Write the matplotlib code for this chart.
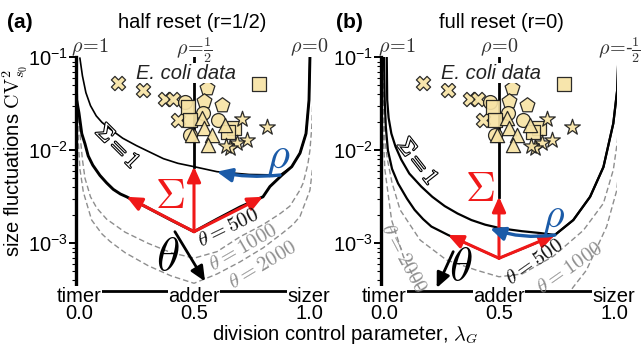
import numpy as np
import matplotlib
matplotlib.use('Agg')
import matplotlib.pyplot as plt
from matplotlib import patheffects as pe

plt.rcParams['font.family'] = ['Liberation Sans', 'DejaVu Sans']
plt.rcParams['mathtext.fontset'] = 'cm'
plt.rcParams['mathtext.rm'] = 'Liberation Sans'
plt.rcParams['mathtext.it'] = 'Liberation Sans:italic'
plt.rcParams['mathtext.bf'] = 'Liberation Sans:bold'

FS = 14.5

# ---------------- E. coli data (lambda_G, CV^2) ----------------
cross_lam = [0.170, 0.278, 0.374, 0.407, 0.432]
cross_cv2 = [0.053, 0.0445, 0.0353, 0.0353, 0.0212]
pent_lam = [0.555, 0.545, 0.620]
pent_cv2 = [0.0464, 0.0341, 0.0307]
circ_lam = [0.461, 0.538, 0.606, 0.483]
circ_cv2 = [0.0334, 0.025, 0.0212, 0.0146]
square_lam = [0.783, 0.475, 0.483, 0.674, 0.647]
square_cv2 = [0.0513, 0.0294, 0.0212, 0.0173, 0.0159]
tri_lam = [0.533, 0.635, 0.545, 0.49, 0.577, 0.562]
tri_cv2 = [0.0221, 0.0187, 0.0173, 0.0146, 0.0146, 0.0114]
star_lam = [0.707, 0.816, 0.729, 0.686, 0.657, 0.64]
star_cv2 = [0.0215, 0.0177, 0.0129, 0.0119, 0.0105, 0.0112]

# ---------------- panel (a): half reset, log10(CV^2) vs lambda_G ----------------
a_t500_lam = [-0.014, -0.01, 0.0, 0.012, 0.026, 0.04, 0.06, 0.091, 0.12, 0.149, 0.18, 0.207,
              0.3, 0.4, 0.5, 0.6, 0.7, 0.8, 0.83, 0.881, 0.925, 0.961, 0.987, 1.0, 1.004]
a_t500_log = [-1.0, -1.46, -1.6, -1.82, -1.93, -2.06, -2.16, -2.27, -2.35, -2.42, -2.47, -2.5,
              -2.62, -2.75, -2.875, -2.74, -2.61, -2.5, -2.39, -2.27, -2.176, -2.03, -1.82, -1.46, -1.0]
a_sig1_lam = [0.004, 0.015, 0.03, 0.05, 0.075, 0.1, 0.135, 0.19, 0.25, 0.3, 0.367, 0.43, 0.5,
              0.6, 0.74, 0.874, 0.925, 0.961, 0.987, 1.0, 1.004]
a_sig1_log = [-1.01, -1.2, -1.38, -1.52, -1.63, -1.7, -1.77, -1.87, -1.95, -2.01, -2.09, -2.14, -2.176,
              -2.23, -2.26, -2.266, -2.176, -2.03, -1.82, -1.46, -1.0]
a_t1000_lam = [-0.012, -0.006, 0.004, 0.015, 0.026, 0.05, 0.077, 0.12, 0.2, 0.3, 0.4, 0.5, 0.6,
               0.7, 0.8, 0.875, 0.917, 0.96, 0.975, 0.995, 1.004, 1.012, 1.016, 1.018]
a_t1000_log = [-1.0, -1.5, -1.82, -2.1, -2.3, -2.5, -2.62, -2.74, -2.88, -3.0, -3.1, -3.16, -3.09,
               -2.93, -2.8, -2.68, -2.6, -2.43, -2.35, -2.15, -2.0, -1.75, -1.5, -1.0]
a_t2000_lam = [-0.012, -0.008, -0.003, 0.004, 0.019, 0.055, 0.1, 0.135, 0.2, 0.3, 0.4, 0.5, 0.6,
               0.7, 0.8, 0.88, 0.93, 0.961, 1.004, 1.02, 1.03, 1.033]
a_t2000_log = [-1.0, -1.5, -1.9, -2.2, -2.45, -2.75, -2.9, -2.98, -3.1, -3.24, -3.35, -3.43, -3.33,
               -3.2, -3.05, -2.9, -2.8, -2.71, -2.43, -2.1, -1.64, -1.0]

# ---------------- panel (b): full reset ----------------
b_t500_lam = [0.0, 0.003, 0.008, 0.017, 0.035, 0.061, 0.1, 0.133, 0.17, 0.206, 0.278, 0.4, 0.5,
              0.62, 0.743, 0.823, 0.896, 0.954, 0.997, 1.014, 1.019]
b_t500_log = [-1.0, -1.46, -1.75, -2.0, -2.2, -2.355, -2.52, -2.64, -2.74, -2.82, -2.91, -3.05, -3.16,
              -3.04, -2.91, -2.75, -2.5, -2.18, -1.71, -1.35, -1.0]
b_sig1_lam = [0.012, 0.014, 0.02, 0.032, 0.05, 0.075, 0.11, 0.162, 0.21, 0.264, 0.32, 0.38, 0.44,
              0.51, 0.6, 0.68, 0.743, 0.823, 0.896, 0.954, 0.997, 1.014, 1.019]
b_sig1_log = [-1.0, -1.46, -1.65, -1.82, -1.96, -2.1, -2.25, -2.39, -2.5, -2.6, -2.68, -2.75, -2.8,
              -2.84, -2.87, -2.89, -2.91, -2.75, -2.5, -2.18, -1.71, -1.35, -1.0]
b_t1000_lam = [-0.005, -0.002, 0.004, 0.015, 0.035, 0.07, 0.157, 0.272, 0.403, 0.5, 0.6, 0.736,
               0.867, 0.954, 0.997, 1.015, 1.025, 1.028]
b_t1000_log = [-1.0, -1.5, -1.9, -2.1, -2.35, -2.64, -2.965, -3.18, -3.29, -3.36, -3.33, -3.14,
               -2.86, -2.57, -2.21, -1.9, -1.5, -1.0]
b_t2000_lam = [-0.01, -0.006, -0.002, 0.004, 0.033, 0.084, 0.142, 0.17, 0.8, 0.823, 0.88, 0.968,
               1.012, 1.03, 1.035, 1.037]
b_t2000_log = [-1.0, -1.5, -1.9, -2.21, -2.75, -3.14, -3.43, -3.55, -3.55, -3.47, -3.29, -2.82,
               -2.43, -2.0, -1.5, -1.0]

xtick_vals = [0.0, 0.5, 1.0]
xtick_text = ['0.0', '0.5', '1.0']
xcat_text = ['timer', 'adder', 'sizer']
ytick_vals = [1e-3, 1e-2, 1e-1]
ytick_text = [r'$\mathregular{10^{-3}}$', r'$\mathregular{10^{-2}}$', r'$\mathregular{10^{-1}}$']

MARK_FC = '#F7E3A5'
RED = '#F01818'
BLUE = '#1B5BA8'
GRAY = '#8E8E8E'

W, H = 642, 352
fig = plt.figure(figsize=(W / 100, H / 100), dpi=100)


def rect(left, top, w, h):
    return [left / W, 1 - (top + h) / H, w / W, h / H]


axA = fig.add_axes(rect(76, 57.3, 236, 233.7))
axB = fig.add_axes(rect(381, 57.3, 236, 233.7))


def L(v):
    return 10 ** np.asarray(v, dtype=float)


def setup(ax):
    ax.set_yscale('log')
    ax.set_xlim(-0.013, 1.013)
    ax.set_ylim(10 ** -3.513, 0.1)
    for s in ('top', 'right'):
        ax.spines[s].set_visible(False)
    ax.spines['left'].set_linewidth(2.4)
    ax.spines['left'].set_bounds(10 ** -3.45, 0.1)
    ax.spines['bottom'].set_linewidth(2.0)
    ax.set_xticks([])
    ax.set_yticks(ytick_vals)
    minors = [m * 10.0 ** e for e in (-4, -3, -2) for m in range(2, 10)]
    minors = [m for m in minors if m > 10 ** -3.45]
    ax.set_yticks(minors, minor=True)
    ax.set_yticklabels(ytick_text, math_fontfamily='custom', fontsize=FS)
    ax.set_yticklabels([], minor=True)
    ax.tick_params(axis='y', which='major', direction='out', length=5, width=1.4, pad=1)
    ax.tick_params(axis='y', which='minor', direction='out', length=3, width=0.8)
    tr = ax.get_xaxis_transform()
    for xv, ct, tt in zip(xtick_vals, xcat_text, xtick_text):
        ax.text(xv, -0.0458, ct, transform=tr, ha='center', va='baseline', fontsize=FS,
                bbox=dict(fc='white', ec='none', pad=0.3), zorder=10, clip_on=False)
        ax.text(xv, -0.121, tt, transform=tr, ha='center', va='baseline', fontsize=FS,
                zorder=10, clip_on=False)


def data(ax):
    kw = dict(c=MARK_FC, edgecolors='#1a1a1a', linewidths=0.9, alpha=0.92, zorder=6, clip_on=False)
    ax.scatter(cross_lam, cross_cv2, marker='X', s=105, **kw)
    ax.scatter(pent_lam, pent_cv2, marker='p', s=125, **kw)
    ax.scatter(circ_lam, circ_cv2, marker='o', s=100, **kw)
    ax.scatter(square_lam, square_cv2, marker='s', s=100, **kw)
    ax.scatter(tri_lam, tri_cv2, marker='^', s=105, **kw)
    ax.scatter(star_lam, star_cv2, marker='*', s=140, **kw)
    ax.text(0.465, 10 ** -1.17, 'E. coli data', fontsize=FS, style='italic', ha='center',
            va='center', color='#222222', bbox=dict(fc='white', ec='none', pad=0.5), zorder=7)


def arrow(ax, p0, p1, color, lw=2.2, ms=15, rad=0.0):
    ax.annotate('', xy=(p1[0], 10 ** p1[1]), xytext=(p0[0], 10 ** p0[1]),
                arrowprops=dict(arrowstyle='-|>,head_length=0.6,head_width=0.27', color=color,
                                lw=lw, mutation_scale=ms, shrinkA=0, shrinkB=0,
                                connectionstyle='arc3,rad=%g' % rad),
                zorder=5)


def mtext(ax, x, logy, s, fs, color='black', rot=0, **kw):
    return ax.text(x, 10 ** logy, s, fontsize=fs, color=color, rotation=rot, ha='center',
                   va='center', rotation_mode='anchor', zorder=8, **kw)


dash = dict(color=GRAY, lw=1.0, dashes=(4, 2.2), zorder=2)
outline = [pe.withStroke(linewidth=1.6, foreground='black')]

# ---------------- panel (a) ----------------
ax = axA
setup(ax)
ax.plot(a_t2000_lam, L(a_t2000_log), **dash)
ax.plot(a_t1000_lam, L(a_t1000_log), **dash)
ax.plot(a_sig1_lam, L(a_sig1_log), color='black', lw=1.2, zorder=3)
ax.plot(a_t500_lam, L(a_t500_log), color='black', lw=2.1, zorder=3)
ax.plot([0.5, 0.5], [0.1, 10 ** -2.176], color='black', lw=2.0, zorder=3)
data(ax)
arrow(ax, (0.5, -2.875), (0.207, -2.5), RED)
arrow(ax, (0.5, -2.875), (0.8, -2.5), RED)
arrow(ax, (0.5, -2.875), (0.5, -2.176), RED)
arrow(ax, (0.874, -2.266), (0.599, -2.23), BLUE, lw=2.4, rad=-0.08)
arrow(ax, (0.417, -2.875), (0.548, -3.41), 'black', lw=2.0)
mtext(ax, 0.396, -2.503, r'$\Sigma$', 30, RED)
mtext(ax, 0.387, -3.16, r'$\theta$', 34, 'black')
mtext(ax, 0.865, -2.083, r'$\rho$', 32, BLUE)
mtext(ax, 0.165, -1.965, r'$\Sigma=1$', 16, 'white', rot=-45, path_effects=outline)
mtext(ax, 0.648, -2.836, r'$\theta=500$', 15, '#111111', rot=26)
mtext(ax, 0.713, -3.05, r'$\theta=1000$', 15, GRAY, rot=30)
mtext(ax, 0.80, -3.23, r'$\theta=2000$', 15, GRAY, rot=31)
tr = ax.get_xaxis_transform()
ax.text(0.048, 1.044, r'$\rho\!=\!1$', transform=tr, fontsize=14.5, ha='center', va='center', color='#333333')
ax.text(0.5, 1.03, r'$\rho\!=\!\frac{1}{2}$', transform=tr, fontsize=14.5, ha='center', va='center', color='#333333')
ax.text(1.0, 1.044, r'$\rho\!=\!0$', transform=tr, fontsize=14.5, ha='center', va='center', color='#333333')

# ---------------- panel (b) ----------------
ax = axB
setup(ax)
ax.plot(b_t2000_lam, L(b_t2000_log), **dash)
ax.plot(b_t1000_lam, L(b_t1000_log), **dash)
ax.plot(b_sig1_lam, L(b_sig1_log), color='black', lw=1.6, zorder=3)
ax.plot(b_t500_lam, L(b_t500_log), color='black', lw=1.6, zorder=3)
ax.plot([0.5, 0.5], [0.1, 10 ** -2.499], color='black', lw=2.0, zorder=3)
data(ax)
arrow(ax, (0.5, -3.161), (0.278, -2.911), RED)
arrow(ax, (0.5, -3.161), (0.743, -2.911), RED)
arrow(ax, (0.5, -3.161), (0.5, -2.499), RED)
arrow(ax, (0.743, -2.911), (0.461, -2.839), BLUE, lw=2.4, rad=-0.12)
arrow(ax, (0.301, -3.09), (0.229, -3.48), 'black', lw=2.0)
mtext(ax, 0.417, -2.427, r'$\Sigma$', 30, RED)
mtext(ax, 0.335, -3.265, r'$\theta$', 34, 'black')
mtext(ax, 0.735, -2.727, r'$\rho$', 30, BLUE)
mtext(ax, 0.143, -2.127, r'$\Sigma=1$', 16, 'white', rot=-52, path_effects=outline)
mtext(ax, 0.654, -3.2, r'$\theta=500$', 15, '#111111', rot=35)
mtext(ax, 0.809, -3.265, r'$\theta=1000$', 15, GRAY, rot=35)
mtext(ax, 0.083, -3.16, r'$\theta=2000$', 15, GRAY, rot=-62)
tr = ax.get_xaxis_transform()
ax.text(0.057, 1.044, r'$\rho\!=\!1$', transform=tr, fontsize=14.5, ha='center', va='center', color='#333333')
ax.text(0.5, 1.044, r'$\rho\!=\!0$', transform=tr, fontsize=14.5, ha='center', va='center', color='#333333')
ax.text(1.026, 1.03, r'$\rho\!=\!$-$\frac{1}{2}$', transform=tr, fontsize=14.5, ha='center', va='center', color='#333333')

# ---------------- titles and axis labels ----------------
fig.text(20 / W, 1 - 23 / H, '(a)', fontsize=15, fontweight='bold', ha='center', va='center')
fig.text(192 / W, 1 - 22 / H, 'half reset (r=1/2)', fontsize=FS, ha='center', va='center')
fig.text(349 / W, 1 - 23 / H, '(b)', fontsize=15, fontweight='bold', ha='center', va='center')
fig.text(501 / W, 1 - 22 / H, 'full reset (r=0)', fontsize=FS, ha='center', va='center')
fig.text(15 / W, 1 - 161 / H, r'size fluctuations $\mathrm{CV}^2_{s_0}$', fontsize=FS,
         rotation=90, ha='center', va='center')
fig.text(345 / W, 1 - 334 / H, r'division control parameter, $\lambda_G$', fontsize=FS,
         ha='center', va='center')

fig.savefig('out.png', dpi=100)
